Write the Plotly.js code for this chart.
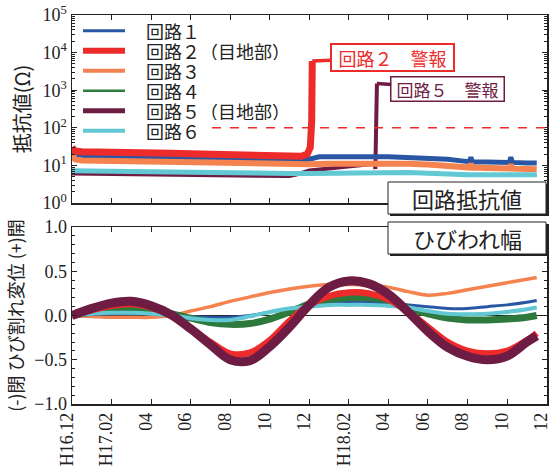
<!DOCTYPE html>
<html>
<head>
<meta charset="utf-8">
<script src="https://cdn.plot.ly/plotly-3.0.1.min.js"></script>
<style>html,body{margin:0;padding:0;background:#fff;}#chart{width:550px;height:475px;}</style>
</head>
<body>
<div id="chart"></div>
<script>
// ---- categories / labels ----
const seriesNames = ['回路１', '回路２（目地部）', '回路３', '回路４', '回路５（目地部）', '回路６'];
const seriesColors = ['#2957a4', '#ee2b2b', '#f58350', '#2e7a3c', '#6e1c44', '#62c8d3'];
const tickMonths = [0, 2, 4, 6, 8, 10, 12, 14, 16, 18, 20, 22, 24];
const tickLabels = ['H16.12', 'H17.02', '04', '06', '08', '10', '12', 'H18.02', '04', '06', '08', '10', '12'];
const logTickVals = [1, 10, 100, 1000, 10000, 100000];
const logTickText = ['10<sup>0</sup>', '10<sup>1</sup>', '10<sup>2</sup>', '10<sup>3</sup>', '10<sup>4</sup>', '10<sup>5</sup>'];
const alarmThreshold = 100;
const thresholdStartMonth = 7.08;
const alarmLabels = ['回路２　警報', '回路５　警報'];
const panelLabels = ['回路抵抗値', 'ひびわれ幅'];

// ---- top panel: circuit resistance (Ω), x = months since H16.12 ----
const r1X = [0, 0.3, 1, 2, 3, 4, 5, 6, 7, 8, 9, 10, 11, 11.8, 12.2, 12.5, 13, 14, 15, 16, 17, 18, 19, 19.8, 20.1, 20.17, 20.25, 21, 22, 22.12, 22.19, 22.27, 23, 23.5];
const r1Y = [20, 18.5, 18, 17.5, 17.5, 17, 16.5, 16.5, 16, 15.5, 15, 14.6, 14.2, 14, 15.5, 17, 17, 17.5, 17, 17, 16.5, 16, 14.5, 13, 12.5, 16.5, 12.5, 12.4, 12, 12, 16.5, 12, 11.6, 11.5];
const r2X = [0, 0.15, 0.5, 1, 2, 3, 4, 5, 6, 7, 8, 9, 10, 11, 11.6, 11.9, 12.05, 12.12, 12.15];
const r2Y = [30, 24, 23, 23, 22.5, 22, 21.5, 21, 20.5, 20, 19.5, 19, 17.5, 17, 17.5, 20, 30, 150, 6000];
const r3X = [0, 0.15, 0.5, 1, 2, 3, 4, 5, 6, 7, 8, 9, 10, 11, 12, 13, 14, 15, 16, 17, 18, 19, 19.8, 20.1, 20.17, 20.25, 21, 22, 22.12, 22.19, 22.27, 23, 23.5];
const r3Y = [20, 14.5, 13.5, 13, 13, 12.8, 12.5, 12.4, 12, 11.5, 11, 10.8, 10.8, 10.8, 10.8, 11, 11.2, 11.4, 11.4, 11, 10.5, 9.6, 9, 8.8, 11, 8.8, 8.5, 8.3, 8.3, 10.5, 8.2, 8, 7.9];
const r46X = [0, 1, 2, 3, 4, 5, 6, 7, 8, 9, 10, 11, 12, 13, 14, 15, 16, 17, 18, 19, 20, 21, 22, 23, 23.5];
const r4Y = [6.9, 6.8, 6.8, 6.7, 6.6, 6.5, 6.4, 6.2, 6.1, 6.0, 5.9, 5.9, 5.9, 6.0, 6.0, 6.1, 6.2, 6.3, 6.0, 5.6, 5.4, 5.4, 5.4, 5.4, 5.4];
const r6Y = [7.2, 7, 7, 6.9, 6.8, 6.7, 6.6, 6.4, 6.3, 6.2, 6.1, 6.1, 6.1, 6.2, 6.2, 6.3, 6.4, 6.5, 6.2, 5.8, 5.6, 5.6, 5.6, 5.6, 5.6];
const r5X = [0, 1, 2, 3, 4, 5, 6, 7, 8, 9, 10, 11, 11.5, 12, 12.5, 13, 13.5, 14, 14.5, 15, 15.3, 15.34, 15.38, 15.42];
const r5Y = [6.1, 6.0, 6.0, 5.9, 5.8, 5.7, 5.6, 5.4, 5.3, 5.2, 5.1, 5.2, 6.0, 7.3, 7.8, 8.3, 8.8, 9.5, 10.2, 11, 11, 8, 100, 1500];

// ---- bottom panel: crack displacement (mm) ----
const cMonths = [0, 1, 2, 3, 4, 5, 6, 7, 8, 9, 10, 11, 12, 13, 14, 15, 16, 17, 18, 19, 20, 21, 22, 23, 23.5];
const c1 = [0, 0.01, 0.02, 0.02, 0.02, 0.0, -0.01, -0.02, -0.02, 0.0, 0.04, 0.08, 0.12, 0.14, 0.15, 0.15, 0.14, 0.12, 0.1, 0.08, 0.08, 0.1, 0.12, 0.15, 0.17];
const c2 = [0, 0.06, 0.11, 0.13, 0.09, 0.0, -0.14, -0.3, -0.43, -0.42, -0.28, -0.06, 0.12, 0.22, 0.26, 0.25, 0.18, 0.04, -0.13, -0.3, -0.4, -0.43, -0.4, -0.28, -0.2];
const c3 = [0, -0.01, -0.02, -0.02, -0.02, 0.0, 0.05, 0.1, 0.16, 0.21, 0.26, 0.3, 0.33, 0.35, 0.35, 0.34, 0.32, 0.27, 0.23, 0.25, 0.29, 0.33, 0.37, 0.41, 0.43];
const c4 = [0, 0.04, 0.06, 0.07, 0.06, 0.02, -0.03, -0.08, -0.1, -0.09, -0.04, 0.04, 0.13, 0.18, 0.2, 0.2, 0.17, 0.08, 0.02, -0.03, -0.05, -0.05, -0.04, -0.02, 0.0];
const c5 = [0, 0.08, 0.14, 0.16, 0.11, 0.01, -0.15, -0.33, -0.5, -0.51, -0.35, -0.13, 0.12, 0.32, 0.39, 0.36, 0.24, 0.04, -0.18, -0.36, -0.46, -0.5, -0.46, -0.3, -0.23];
const c6 = [0, 0.02, 0.03, 0.03, 0.02, 0.0, -0.03, -0.05, -0.05, -0.01, 0.04, 0.08, 0.1, 0.12, 0.12, 0.12, 0.11, 0.09, 0.05, 0.02, 0.015, 0.02, 0.04, 0.07, 0.09];

// ---- styles ----
const topWidths = [5, 7, 6, 2, 4, 5];
const botWidths = [3, 6.5, 3.5, 7, 9, 4];
const legendWidths = [3, 6, 4, 2.5, 5, 4];

const topX = [r1X, r2X, r3X, r46X, r5X, r46X];
const topY = [r1Y, r2Y, r3Y, r4Y, r5Y, r6Y];
const botY = [c1, c2, c3, c4, c5, c6];

const traces = [];
// top panel drawing order
[3, 4, 0, 2, 5, 1].forEach(i => {
  traces.push({x: topX[i], y: topY[i], xaxis: 'x2', yaxis: 'y2', type: 'scatter', mode: 'lines',
    name: seriesNames[i], showlegend: false, line: {color: seriesColors[i], width: topWidths[i]}});
});
// bottom panel drawing order
[2, 0, 3, 5, 1, 4].forEach(i => {
  traces.push({x: cMonths, y: botY[i], xaxis: 'x', yaxis: 'y', type: 'scatter', mode: 'lines',
    name: seriesNames[i], showlegend: false, line: {color: seriesColors[i], width: botWidths[i], shape: 'spline', smoothing: 1}});
});

const L = 72, R = 547, T = 15, B = 404;
const px = v => (v - L) / (R - L);
const py = v => (B - v) / (B - T);

const serif = '"Liberation Serif", "Times New Roman", Times, serif';
const cjk = '"Noto Sans CJK JP", sans-serif';

const shapes = [];
const annotations = [];

// threshold line
shapes.push({type: 'line', xref: 'x2', yref: 'y2', x0: thresholdStartMonth, x1: 24,
  y0: alarmThreshold, y1: alarmThreshold,
  line: {color: '#ee2b2b', width: 1.5, dash: 'dash'}});

// manual legend
const legRows = [30.7, 50.7, 70.7, 90.7, 110.7, 130.7];
seriesNames.forEach((n, i) => {
  shapes.push({type: 'line', xref: 'paper', yref: 'paper', x0: px(83), x1: px(125), y0: py(legRows[i]), y1: py(legRows[i]),
    line: {color: seriesColors[i], width: legendWidths[i]}});
  annotations.push({xref: 'paper', yref: 'paper', x: px(145), y: py(legRows[i]), xanchor: 'left', yanchor: 'middle',
    text: n, showarrow: false, height: 18, borderpad: 0, font: {family: cjk, size: 18, color: '#222'}});
});

// panel label boxes with shadow
[[182, 214], [222, 254]].forEach((b, k) => {
  shapes.push({type: 'rect', xref: 'paper', yref: 'paper', layer: 'above', x0: px(390), x1: px(549), y0: py(b[0] + 2), y1: py(b[1] + 2),
    fillcolor: '#222', line: {width: 0}});
  shapes.push({type: 'rect', xref: 'paper', yref: 'paper', layer: 'above', x0: px(388), x1: px(546), y0: py(b[0]), y1: py(b[1]),
    fillcolor: '#fff', line: {color: '#222', width: 1}});
  annotations.push({xref: 'paper', yref: 'paper', x: px(467), y: py((b[0] + b[1]) / 2), xanchor: 'center', yanchor: 'middle',
    text: panelLabels[k], showarrow: false, font: {family: cjk, size: 22, color: '#222'}});
});

// alarm annotations pointing at the last point of series 2 and 5
const a2x = r2X[r2X.length - 1], a2y = r2Y[r2Y.length - 1];
const a5x = r5X[r5X.length - 1], a5y = r5Y[r5Y.length - 1];
annotations.push({xref: 'x2', yref: 'y2', x: a2x, y: Math.log10(a2y), ax: 80, ay: -3, showarrow: true, arrowhead: 0,
  arrowwidth: 3.5, arrowcolor: seriesColors[1], standoff: 0, text: alarmLabels[0], width: 117, height: 21,
  font: {family: cjk, size: 18, color: seriesColors[1]}, bgcolor: '#fff', bordercolor: seriesColors[1], borderwidth: 2, borderpad: 2});
annotations.push({xref: 'x2', yref: 'y2', x: a5x, y: Math.log10(a5y), ax: 71, ay: 5, showarrow: true, arrowhead: 0,
  arrowwidth: 3.5, arrowcolor: seriesColors[4], standoff: 0, text: alarmLabels[1], width: 108, height: 19,
  font: {family: cjk, size: 17, color: seriesColors[4]}, bgcolor: '#fff', bordercolor: seriesColors[4], borderwidth: 1.5, borderpad: 2});

const axCommon = {showline: true, linecolor: '#222', linewidth: 1.5, mirror: 'ticks', ticks: 'inside', tickcolor: '#222',
  showgrid: false, zeroline: false};

const layout = {
  width: 550, height: 475,
  margin: {l: L, r: 550 - R, t: T, b: 475 - B},
  paper_bgcolor: '#fff', plot_bgcolor: '#fff',
  showlegend: false,
  font: {family: serif, color: '#222'},
  xaxis: Object.assign({}, axCommon, {anchor: 'y', range: [0, 24.02], tickmode: 'array', tickvals: tickMonths, ticktext: tickLabels,
    tickangle: -90, ticklen: 5, ticklabeloverflow: 'allow', ticklabelshift: -5,
    tickfont: {family: serif, size: 18, color: '#222'}}),
  yaxis: Object.assign({}, axCommon, {domain: [0, py(227)], range: [-1, 1], dtick: 0.5, tickformat: '.1f', ticklen: 5,
    tickfont: {family: serif, size: 18, color: '#222'},
    minor: {dtick: 0.1, ticks: 'inside', ticklen: 3, tickcolor: '#222'},
    zeroline: true, zerolinecolor: '#222', zerolinewidth: 1,
    title: {text: '(-)閉 ひび割れ変位 (+)開', font: {family: cjk, size: 18, color: '#222'}, standoff: 6}}),
  xaxis2: Object.assign({}, axCommon, {anchor: 'y2', range: [0, 24.02], tickmode: 'array', tickvals: tickMonths, showticklabels: false, ticklen: 5}),
  yaxis2: Object.assign({}, axCommon, {domain: [py(203), 1], type: 'log', range: [0, 5], tickmode: 'array', tickvals: logTickVals,
    ticktext: logTickText, ticklen: 5, tickfont: {family: serif, size: 18, color: '#222'},
    minor: {ticks: 'inside', ticklen: 3, tickcolor: '#222', dtick: 'D1'},
    title: {text: '抵抗値(Ω)', font: {family: cjk, size: 20, color: '#222'}, standoff: 6}}),
  shapes: shapes,
  annotations: annotations
};

Plotly.newPlot('chart', traces, layout, {staticPlot: true, displayModeBar: false});
</script>
</body>
</html>
